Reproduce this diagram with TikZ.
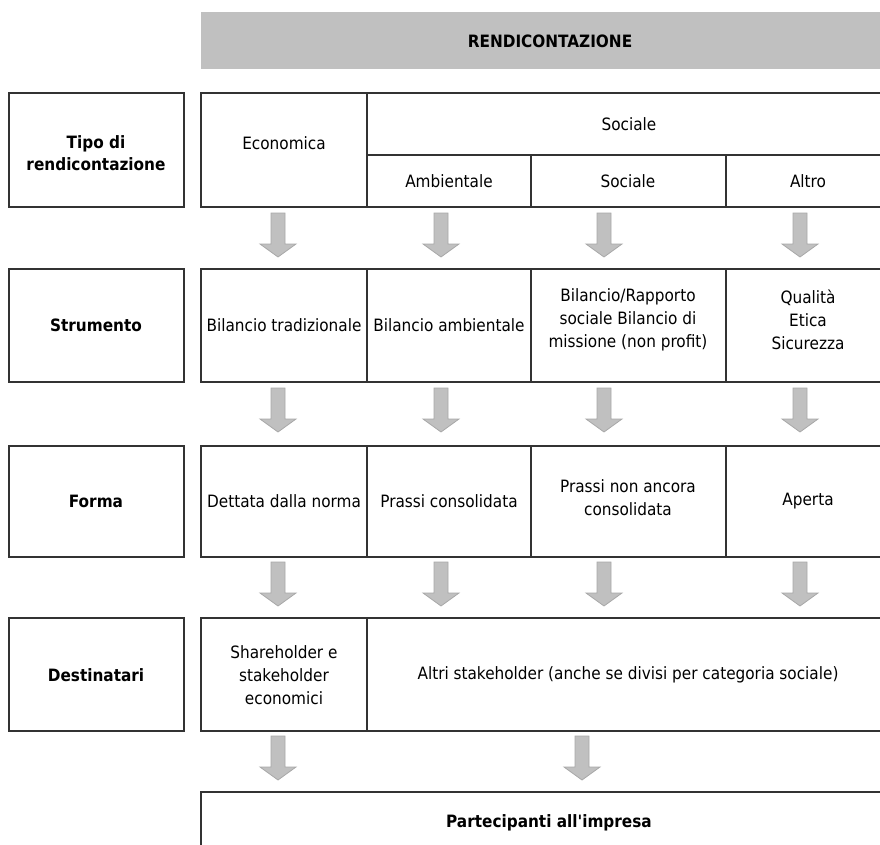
\documentclass[tikz,border=0pt]{standalone}
\usepackage{fontspec}
\setmainfont{DejaVu Sans Condensed}

\definecolor{fillgray}{HTML}{C0C0C0}
\definecolor{edgegray}{HTML}{A8A8A8}
\definecolor{linegray}{HTML}{333333}

\tikzset{
    cell/.style={align=center, font=\fontsize{17}{23}\selectfont},
    head/.style={align=center, font=\fontsize{17}{22}\selectfont\bfseries},
    grid/.style={draw=linegray, line width=1.5pt},
    blockarrow/.style={fill=fillgray, draw=edgegray, line width=0.8pt},
}

\begin{document}
\begin{tikzpicture}[x=1pt, y=-1pt]
    \useasboundingbox (0,0) rectangle (880,845);
    \clip (0,0) rectangle (880,845);

    % titolo
    \fill[fillgray] (201,12) rectangle (905,69);
    \node[head] (title) at (550,41) {RENDICONTAZIONE};

    % righe
    \foreach \top/\bot in {93/207, 269/382, 446/557, 618/731} {
        \draw[grid] (9,\top) rectangle (184,\bot);
        \draw[grid] (201,\top) rectangle (895,\bot);
    }
    \draw[grid] (201,792) rectangle (895,880);

    % divisori
    \draw[grid] (367,93) -- (367,207);
    \draw[grid] (367,155) -- (895,155);
    \foreach \top/\bot in {155/207, 269/382, 446/557} {
        \draw[grid] (367,\top) -- (367,\bot);
        \draw[grid] (531,\top) -- (531,\bot);
        \draw[grid] (726,\top) -- (726,\bot);
    }
    \draw[grid] (367,618) -- (367,731);

    % frecce
    \foreach \x in {278,441,604,800} {
        \foreach \y in {213,388,562} {
            \filldraw[blockarrow] (\x-7,\y) -- (\x+7,\y) -- (\x+7,\y+31) -- (\x+18,\y+31)
                -- (\x,\y+44) -- (\x-18,\y+31) -- (\x-7,\y+31) -- cycle;
        }
    }
    \foreach \x in {278,582} {
        \filldraw[blockarrow] (\x-7,736) -- (\x+7,736) -- (\x+7,767) -- (\x+18,767)
            -- (\x,780) -- (\x-18,767) -- (\x-7,767) -- cycle;
    }

    % tipo di rendicontazione
    \node[head] (tipo) at (96,153) {Tipo di\\rendicontazione};
    \node[cell] (econ) at (284,143) {Economica};
    \node[cell] (soc) at (629,124) {Sociale};
    \node[cell] (amb) at (449,181) {Ambientale};
    \node[cell] (socb) at (628,181) {Sociale};
    \node[cell] (altro) at (808,181) {Altro};

    % strumento
    \node[head] (strum) at (96,325) {Strumento};
    \node[cell] (trad) at (284,325) {Bilancio tradizionale};
    \node[cell] (ambi) at (449,325) {Bilancio ambientale};
    \node[cell] (rapp) at (628,320) {Bilancio/Rapporto\\sociale Bilancio di\\missione (non profit)};
    \node[cell] (qual) at (808,320) {Qualità\\Etica\\Sicurezza};

    % forma
    \node[head] (forma) at (96,501) {Forma};
    \node[cell] (norma) at (284,501) {Dettata dalla norma};
    \node[cell] (cons) at (449,501) {Prassi consolidata};
    \node[cell] (noncons) at (628,498) {Prassi non ancora\\consolidata};
    \node[cell] (aperta) at (808,501) {Aperta};

    % destinatari
    \node[head] (dest) at (96,675) {Destinatari};
    \node[cell] (share) at (284,675) {Shareholder e\\stakeholder\\economici};
    \node[cell] (altri) at (628,675) {Altri stakeholder (anche se divisi per categoria sociale)};

    % partecipanti
    \node[head] (part) at (549,823) {Partecipanti all\textquotesingle impresa};
\end{tikzpicture}
\end{document}
